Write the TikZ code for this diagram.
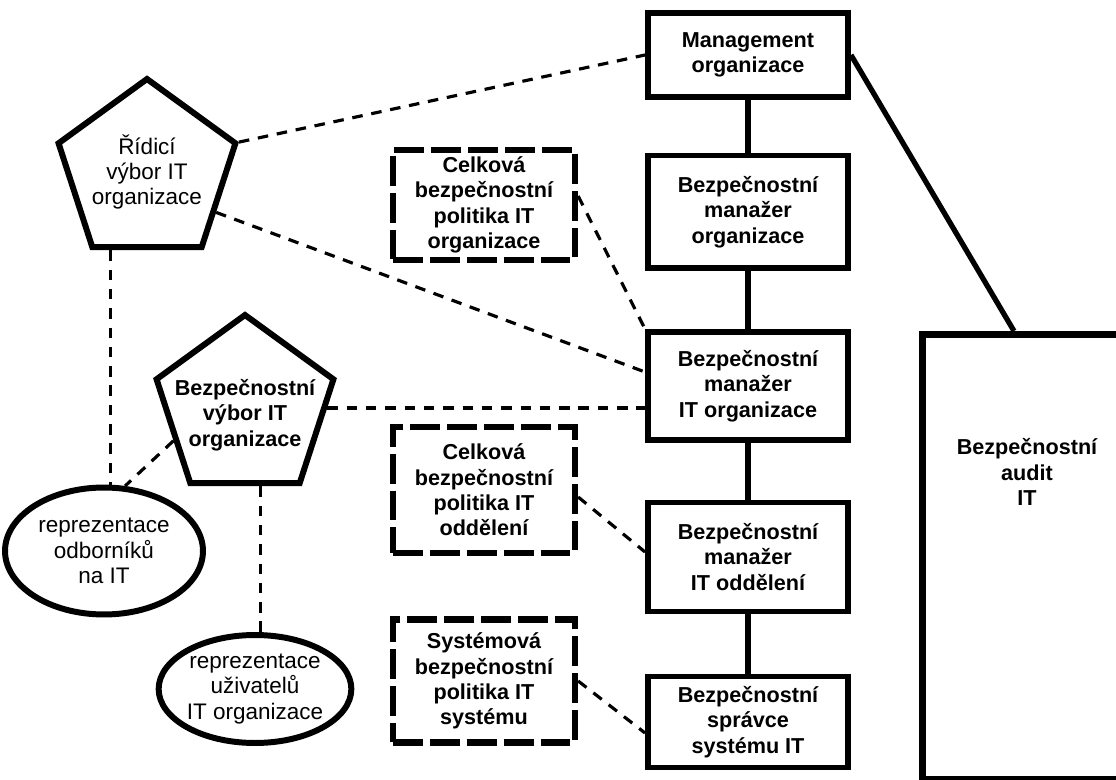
\documentclass[tikz,border=0pt]{standalone}
\usepackage{fontspec}
\setmainfont{Liberation Sans}
\usetikzlibrary{shapes.geometric,calc}

\begin{document}
\begin{tikzpicture}[x=0.02cm, y=-0.02cm, font=\fontsize{12.8}{14.4}\selectfont]
    % Styles
    \tikzstyle{role} = [rectangle, draw, line width=3.4pt, minimum width=4cm, align=center, inner sep=2pt, font=\fontsize{12.3}{14.4}\selectfont\bfseries]
    \tikzstyle{policy} = [rectangle, draw, line width=3.6pt, dash pattern=on 17pt off 4pt, minimum width=3.64cm, align=center, inner sep=2pt, font=\fontsize{12.3}{14.4}\selectfont\bfseries]
    \tikzstyle{board} = [regular polygon, regular polygon sides=5, draw, line width=3.4pt, minimum size=3.72cm, inner sep=0pt]
    \tikzstyle{rep} = [ellipse, draw, line width=3.4pt, inner sep=0pt, align=center]
    \tikzstyle{auditbox} = [rectangle, draw, line width=4pt]
    \tikzstyle{link} = [line width=3pt]
    \tikzstyle{dlink} = [line width=1.8pt, dash pattern=on 6pt off 5pt]

    \useasboundingbox (0,0) rectangle (1116,780);
    \clip (0,0) rectangle (1116,780);

    % Management chain
    \node[role, minimum height=1.68cm] (mgmt) at (748,55) {Management\\organizace};
    \node[role, minimum height=2.26cm] (manorg) at (748,212) {Bezpečnostní\\manažer\\organizace};
    \node[role, minimum height=2.16cm] (manitorg) at (748,386) {Bezpečnostní\\manažer\\IT organizace};
    \node[role, minimum height=2.18cm] (manitodd) at (748,557) {Bezpečnostní\\manažer\\IT oddělení};
    \node[role, minimum height=1.82cm] (spravce) at (748,722) {Bezpečnostní\\správce\\systému IT};

    % Policies
    \node[policy, minimum height=2.2cm] (polorg) at (484,205) {Celková\\bezpečnostní\\politika IT\\organizace};
    \node[policy, minimum height=2.52cm] (polodd) at (484,490) {Celková\\bezpečnostní\\politika IT\\oddělení};
    \node[policy, minimum height=2.46cm] (polsys) at (484,681) {Systémová\\bezpečnostní\\politika IT\\systému};

    % Committees and representatives
    \node[board, label={[align=center]center:{Řídicí\\výbor IT\\organizace}}] (ridici) at (147,172) {};
    \node[board, label={[align=center, yshift=-0.14cm, font=\fontsize{12.3}{14.4}\selectfont\bfseries]center:{Bezpečnostní\\výbor IT\\organizace}}] (bvybor) at (245,408) {};
    \node[rep, minimum width=3.96cm, minimum height=2.54cm] (odb) at (104,551) {reprezentace\\odborníků\\na IT};
    \node[rep, minimum width=3.72cm, minimum height=2.16cm] (uziv) at (255,689) {reprezentace\\uživatelů\\IT organizace};

    % Audit
    \node[auditbox, minimum width=4.2cm, minimum height=8.9cm, label={[align=center, yshift=1.7cm, font=\fontsize{12.3}{14.4}\selectfont\bfseries]center:{Bezpečnostní\\audit\\IT}}] (audit) at (1027,557) {};

    % Lines
    \draw[link] (mgmt) -- (manorg);
    \draw[link] (manorg) -- (manitorg);
    \draw[link] (manitorg) -- (manitodd);
    \draw[link] (manitodd) -- (spravce);
    \draw[link] (mgmt.east) -- ($(audit.north west)!0.44!(audit.north east)$);

    % Dashed lines
    \draw[dlink] (ridici.corner 5) -- (mgmt.west);
    \draw[dlink] ($(ridici.corner 4)!0.35!(ridici.corner 5)$) -- ([yshift=0.28cm]manitorg.west);
    \draw[dlink] ($(ridici.corner 3)!0.18!(ridici.corner 4)$) coordinate (rbot) -- (rbot |- odb.north);
    \draw[dlink] (bvybor.east) -- (bvybor.east -| manitorg.west);
    \draw[dlink] ($(bvybor.corner 2)!0.58!(bvybor.corner 3)$) -- (odb.72);
    \draw[dlink] ($(bvybor.corner 3)!0.64!(bvybor.corner 4)$) coordinate (bbot) -- (bbot |- uziv.north);
    \draw[dlink] ([yshift=0.18cm]polorg.east) -- (manitorg.north west);
    \draw[dlink] ([yshift=-0.14cm]polodd.east) -- ([yshift=0.1cm]manitodd.west);
    \draw[dlink] (polsys.east) -- ([yshift=-0.22cm]spravce.west);
\end{tikzpicture}
\end{document}
